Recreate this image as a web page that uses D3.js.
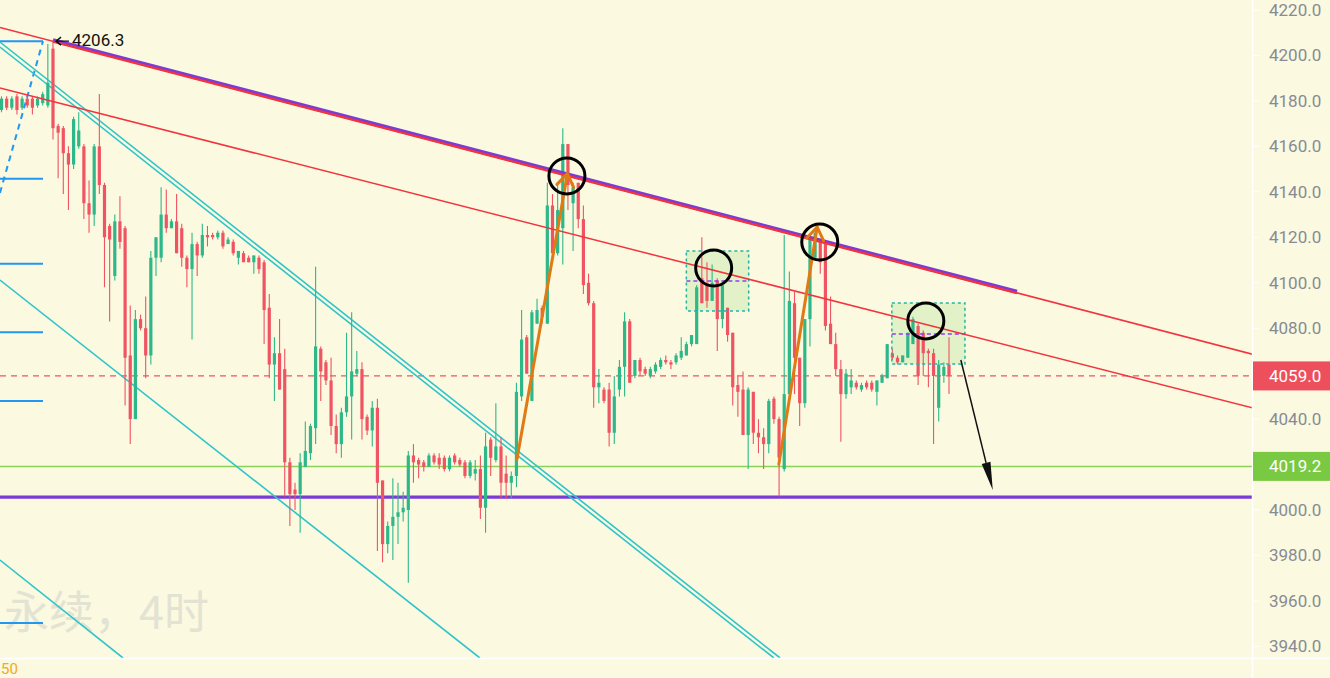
<!DOCTYPE html>
<html>
<head>
<meta charset="utf-8">
<script src="https://d3js.org/d3.v7.min.js"></script>
<style>
  body { margin: 0; background: #fbf9e0; overflow: hidden; }
</style>
</head>
<body>
<div id="chart-area"></div>
<script>
const WIDTH = 1330
const HEIGHT = 678
const PLOT = { RIGHT: 1252, BOTTOM: 658 }

// 4h candles
const opens = [
  4176,4181,4177,4182,4177,4181,4181,4178,4179,4178,
  4203,4169,4168,4157,4152,4160,4160,4135,4130,4160,
  4143,4125,4103,4127,4124,4068,4040,4084,4080,4068,
  4111,4111,4130,4124,4127,4124,4111,4106,4117,4112,
  4121,4121,4120,4122,4117,4118,4111,4113,4111,4109,
  4111,4109,4089,4064,4069,4062,4021,4009,4007,4019,
  4025,4036,4071,4065,4057,4037,4029,4043,4050,4060,
  4062,4041,4035,4045,4013,3985,3993,3997,3999,4000,
  4024,4022,4021,4019,4024,4023,4023,4018,4024,4022,
  4021,4015,4016,4018,4001,4031,4022,4028,4016,4012,
  4015,4050,4076,4048,4082,4089,4082,4134,4113,4124,
  4161,4135,4144,4128,4100,4091,4054,4053,4053,4034,
  4053,4063,4083,4059,4066,4062,4059,4061,4063,4066,
  4065,4065,4067,4068,4073,4073,4102,4100,4092,4101,
  4084,4089,4078,4055,4053,4033,4052,4034,4032,4029,
  4049,4040,4018,4051,4091,4067,4047,4084,4111,4118,
  4117,4082,4073,4062,4051,4054,4056,4053,4056,4056,
  4052,4056,4058,4069,4067,4065,4067,4073,4081,4078,
  4070,4069,4045,4059,4064
]
const highs = [
  4182,4182,4182,4183,4182,4182,4182,4182,4184,4205,
  4206.3,4170,4169,4160,4173,4175,4161,4145,4161,4183,
  4144,4126,4130,4138,4125,4090,4088,4086,4094,4114,
  4120,4142,4141,4128,4139,4126,4112,4122,4118,4126,
  4125,4122,4123,4123,4120,4119,4114,4114,4112,4112,
  4112,4110,4095,4076,4084,4071,4023,4012,4025,4039,
  4038,4107,4072,4066,4067,4042,4045,4078,4087,4070,
  4065,4042,4048,4049,4013,3995,4014,4012,4008,4026,
  4029,4023,4022,4025,4025,4025,4024,4024,4025,4023,
  4022,4022,4022,4024,4034,4032,4047,4032,4024,4017,
  4056,4088,4077,4088,4093,4090,4144,4139,4143,4168,
  4161,4144,4144,4134,4104,4092,4062,4054,4056,4059,
  4066,4087,4084,4066,4067,4063,4063,4065,4067,4068,
  4066,4069,4076,4074,4077,4099,4120,4109,4108,4102,
  4099,4089,4078,4059,4061,4054,4052,4040,4036,4049,
  4050,4041,4121,4105,4096,4067,4084,4120,4123,4118,
  4118,4094,4078,4066,4062,4062,4057,4056,4057,4057,
  4057,4060,4073,4071,4068,4068,4078,4085,4082,4079,
  4071,4071,4066,4065,4076
]
const lows = [
  4175,4176,4176,4174,4176,4177,4174,4177,4178,4177,
  4163,4146,4139,4132,4150,4159,4128,4122,4125,4139,
  4098,4083,4101,4115,4046,4029,4040,4079,4058,4064,
  4103,4109,4122,4124,4113,4107,4098,4075,4103,4111,
  4116,4119,4119,4115,4117,4112,4108,4110,4109,4104,
  4104,4073,4058,4048,4053,4006,3993,4000,3990,4019,
  4022,4029,4048,4055,4033,4025,4023,4041,4031,4059,
  4031,4033,4028,3982,3977,3981,3978,3985,3995,3968,
  4012,4014,4017,4019,4020,4018,4017,4017,4020,4019,
  4014,4014,4013,3996,3990,4015,4021,4005,4005,4005,
  4010,4048,4060,4048,4082,4082,4082,4112,4112,4108,
  4132,4114,4124,4095,4090,4045,4047,4047,4028,4029,
  4050,4050,4056,4058,4059,4059,4058,4060,4062,4064,
  4062,4064,4066,4068,4072,4073,4091,4089,4092,4070,
  4080,4074,4046,4041,4033,4018,4029,4025,4018,4025,
  4038,4006,4017,4051,4051,4037,4045,4072,4110,4104,
  4079,4073,4059,4030,4049,4051,4053,4052,4053,4052,
  4046,4056,4058,4066,4064,4065,4067,4073,4055,4059,
  4054,4029,4039,4056,4051
]
const closes = [
  4181,4177,4181,4176,4181,4178,4177,4181,4183,4188,
  4168,4166,4157,4152,4172,4167,4135,4130,4160,4143,
  4120,4119,4127,4118,4067,4040,4084,4080,4068,4111,
  4120,4130,4124,4127,4113,4111,4106,4117,4112,4121,
  4120,4120,4122,4116,4119,4113,4114,4109,4109,4112,
  4106,4088,4064,4069,4053,4021,4007,4007,4021,4026,
  4037,4072,4061,4057,4037,4029,4043,4050,4061,4062,
  4040,4035,4045,4012,3985,3993,3997,3999,4001,4024,
  4021,4020,4019,4024,4021,4020,4018,4023,4021,4020,
  4015,4021,4018,4001,4028,4023,4028,4012,4012,4015,
  4052,4075,4060,4087,4088,4085,4134,4113,4132,4161,
  4143,4142,4128,4099,4091,4054,4056,4048,4034,4050,
  4063,4083,4056,4066,4061,4060,4062,4064,4066,4065,
  4064,4068,4070,4073,4077,4098,4091,4092,4100,4084,
  4099,4077,4054,4052,4033,4053,4034,4032,4029,4048,
  4040,4023,4051,4092,4067,4047,4084,4119,4122,4109,
  4081,4073,4062,4051,4060,4057,4054,4055,4054,4053,
  4057,4059,4073,4067,4065,4068,4078,4084,4059,4069,
  4069,4059,4064,4063,4059
]

const priceTicks = [4220, 4200, 4180, 4160, 4140, 4120, 4100, 4080, 4060, 4040, 4020, 4000, 3980, 3960, 3940]
const lastPrice = 4059.0
const supportPrice = 4019.2
const floorPrice = 4005.7
const peak = [10, 4206.3]

// drawings as [bar index, price]
const mainTrend = [[-0.3, 4212.3], [243, 4068.5]]
const purpleTrend = [[10, 4206.3], [197.2, 4095.6]]
const lowerTrend = [[-0.3, 4185.7], [243, 4044.9]]
const cyanLines = [
  [[-0.3, 4205.9], [151.2, 3934.9]],
  [[-0.3, 4203.7], [150.0, 3934.9]],
  [[-0.3, 4101.2], [92.9, 3934.9]],
  [[-0.3, 3978.0], [23.6, 3934.9]]
]
const fibSpan = [-0.3, 8.06]
const fibLevels = [4206.3, 4145.8, 4108.4, 4078.2, 4048.0, 3950.3]
const fibTrend = [[-0.3, 4139.5], [8.06, 4206.3]]
const orangeArrows = [
  [[100.1, 4022.4], [109.9, 4148.0]],
  [[150.96, 4020.2], [158.4, 4124.5]]
]
const circles = [[109.8, 4147.0], [138.3, 4106.5], [158.9, 4117.9], [179.5, 4083.2]]
const boxes = [
  { from: 133.0, to: 145.1, top: 4114.0, bottom: 4087.6, mid: 4100.8 },
  { from: 172.9, to: 187.1, top: 4091.1, bottom: 4064.2, mid: 4077.4 }
]
const blackArrow = [[186.3, 4066.0], [192.5, 4008.8]]

const UP = "#2eb88a"
const DOWN = "#ef5462"

const svg = d3.select("#chart-area")
    .append("svg")
    .attr("width", WIDTH)
    .attr("height", HEIGHT)
    .style("display", "block")

svg.append("rect")
    .attr("width", WIDTH)
    .attr("height", HEIGHT)
    .attr("fill", "#fbf9e0")

svg.append("defs").append("clipPath")
    .attr("id", "plot-clip")
    .append("rect")
    .attr("width", PLOT.RIGHT)
    .attr("height", PLOT.BOTTOM)

const x = d3.scaleLinear().domain([0, 184]).range([1.5, 949])
const y = d3.scaleLinear().domain([3940, 4220]).range([646.4, 10])

const g = svg.append("g").attr("clip-path", "url(#plot-clip)")

// watermark
g.append("text")
    .attr("x", 4)
    .attr("y", 629)
    .attr("fill", "#e3e3d3")
    .style("font-family", "'Noto Sans CJK SC', sans-serif")
    .style("font-size", "45px")
    .text("永续，4时")

const seg = (pts) => d3.line().x(d => x(d[0])).y(d => y(d[1]))(pts)

// horizontal levels
g.append("line")
    .attr("x1", 0).attr("x2", PLOT.RIGHT)
    .attr("y1", y(lastPrice)).attr("y2", y(lastPrice))
    .attr("stroke", "#ef5462").attr("stroke-width", 1.2)
    .attr("stroke-dasharray", "6,5")

g.append("line")
    .attr("x1", 0).attr("x2", PLOT.RIGHT)
    .attr("y1", y(supportPrice)).attr("y2", y(supportPrice))
    .attr("stroke", "#8cd15a").attr("stroke-width", 1.5)

g.append("line")
    .attr("x1", 0).attr("x2", PLOT.RIGHT)
    .attr("y1", y(floorPrice)).attr("y2", y(floorPrice))
    .attr("stroke", "#7b3bd6").attr("stroke-width", 3.2)

// boxes (fill under candles)
g.selectAll(".box-fill").data(boxes).enter()
    .append("rect")
    .attr("x", d => x(d.from))
    .attr("y", d => y(d.top))
    .attr("width", d => x(d.to) - x(d.from))
    .attr("height", d => y(d.bottom) - y(d.top))
    .attr("fill", "#dcefc0")
    .attr("fill-opacity", 0.8)

// fib retracement
g.selectAll(".fib").data(fibLevels).enter()
    .append("line")
    .attr("x1", x(fibSpan[0])).attr("x2", x(fibSpan[1]))
    .attr("y1", d => y(d)).attr("y2", d => y(d))
    .attr("stroke", "#2196f3").attr("stroke-width", 2)

g.append("path")
    .attr("d", seg(fibTrend))
    .attr("stroke", "#2196f3").attr("stroke-width", 2)
    .attr("stroke-dasharray", "6,5").attr("fill", "none")

// cyan channel
g.selectAll(".cyan").data(cyanLines).enter()
    .append("path")
    .attr("d", d => seg(d))
    .attr("stroke", "#2ec4c9").attr("stroke-width", 1.6)
    .attr("fill", "none")

// candles
const candles = opens.map((o, i) => ({ i, o, h: highs[i], l: lows[i], c: closes[i] }))

g.selectAll(".wick").data(candles).enter()
    .append("line")
    .attr("x1", d => x(d.i)).attr("x2", d => x(d.i))
    .attr("y1", d => y(d.h)).attr("y2", d => y(d.l))
    .attr("stroke", d => d.c >= d.o ? UP : DOWN)
    .attr("stroke-width", 1.1)

g.selectAll(".body").data(candles).enter()
    .append("rect")
    .attr("x", d => x(d.i) - 1.6)
    .attr("width", 3.2)
    .attr("y", d => y(Math.max(d.o, d.c)))
    .attr("height", d => Math.max(1, Math.abs(y(d.o) - y(d.c))))
    .attr("fill", d => d.c >= d.o ? UP : DOWN)

// box borders
g.selectAll(".box-line").data(boxes).enter()
    .append("rect")
    .attr("x", d => x(d.from))
    .attr("y", d => y(d.top))
    .attr("width", d => x(d.to) - x(d.from))
    .attr("height", d => y(d.bottom) - y(d.top))
    .attr("fill", "none")
    .attr("stroke", "#22b5a5").attr("stroke-width", 1.5)
    .attr("stroke-dasharray", "3,3")

g.selectAll(".box-mid").data(boxes).enter()
    .append("line")
    .attr("x1", d => x(d.from)).attr("x2", d => x(d.to))
    .attr("y1", d => y(d.mid)).attr("y2", d => y(d.mid))
    .attr("stroke", "#8e3ff5").attr("stroke-width", 1.5)
    .attr("stroke-dasharray", "4,3")

// trend lines
g.append("path")
    .attr("d", seg(purpleTrend))
    .attr("transform", "translate(0,-1)")
    .attr("stroke", "#7b3bd6").attr("stroke-width", 4)
    .attr("fill", "none")

g.append("path")
    .attr("d", seg(mainTrend))
    .attr("stroke", "#f2343f").attr("stroke-width", 1.6)
    .attr("fill", "none")

g.append("path")
    .attr("d", seg(purpleTrend))
    .attr("transform", "translate(0,0.6)")
    .attr("stroke", "#f2343f").attr("stroke-width", 2)
    .attr("fill", "none")

g.append("path")
    .attr("d", seg(lowerTrend))
    .attr("stroke", "#f2343f").attr("stroke-width", 1.5)
    .attr("fill", "none")

// orange arrows
orangeArrows.forEach(a => {
    const x0 = x(a[0][0]), y0 = y(a[0][1]), x1 = x(a[1][0]), y1 = y(a[1][1])
    const ang = Math.atan2(y0 - y1, x0 - x1)
    const len = 15, spread = 0.6
    g.append("line")
        .attr("x1", x0).attr("y1", y0).attr("x2", x1).attr("y2", y1)
        .attr("stroke", "#e07a14").attr("stroke-width", 3)
        .attr("stroke-linecap", "round")
    g.append("polyline")
        .attr("points", [
            [x1 + len * Math.cos(ang - spread), y1 + len * Math.sin(ang - spread)],
            [x1, y1],
            [x1 + len * Math.cos(ang + spread), y1 + len * Math.sin(ang + spread)]
        ].join(" "))
        .attr("fill", "none")
        .attr("stroke", "#e07a14").attr("stroke-width", 3)
        .attr("stroke-linejoin", "round").attr("stroke-linecap", "round")
})

// circles
g.selectAll(".ring").data(circles).enter()
    .append("circle")
    .attr("cx", d => x(d[0]))
    .attr("cy", d => y(d[1]))
    .attr("r", 18)
    .attr("fill", "none")
    .attr("stroke", "#000").attr("stroke-width", 3)

// black arrow
{
    const x0 = x(blackArrow[0][0]), y0 = y(blackArrow[0][1])
    const x1 = x(blackArrow[1][0]), y1 = y(blackArrow[1][1])
    const ang = Math.atan2(y1 - y0, x1 - x0)
    const hl = 28, hw = 4.5
    const bx = x1 - hl * Math.cos(ang), by = y1 - hl * Math.sin(ang)
    g.append("line")
        .attr("x1", x0).attr("y1", y0).attr("x2", bx).attr("y2", by)
        .attr("stroke", "#111").attr("stroke-width", 1.5)
    g.append("polygon")
        .attr("points", [
            [x1, y1],
            [bx + hw * Math.sin(ang), by - hw * Math.cos(ang)],
            [bx - hw * Math.sin(ang), by + hw * Math.cos(ang)]
        ].join(" "))
        .attr("fill", "#111")
}

// high marker
const px = x(peak[0]), py = y(peak[1])
g.append("path")
    .attr("d", `M${px + 16},${py} L${px + 3},${py} M${px + 8},${py - 4} L${px + 3},${py} L${px + 8},${py + 4}`)
    .attr("stroke", "#111").attr("stroke-width", 1.4).attr("fill", "none")
g.append("text")
    .attr("x", px + 19)
    .attr("y", py + 5)
    .attr("fill", "#111")
    .style("font-family", "Roboto, sans-serif")
    .style("font-size", "17px")
    .text(peak[1].toFixed(1))

// axes frame
svg.append("line")
    .attr("x1", PLOT.RIGHT + 0.5).attr("x2", PLOT.RIGHT + 0.5)
    .attr("y1", 0).attr("y2", HEIGHT)
    .attr("stroke", "#ffffff").attr("stroke-width", 1.5)
svg.append("line")
    .attr("x1", 0).attr("x2", WIDTH)
    .attr("y1", PLOT.BOTTOM + 0.5).attr("y2", PLOT.BOTTOM + 0.5)
    .attr("stroke", "#ffffff").attr("stroke-width", 1.5)

const axis = svg.append("g")
axis.selectAll(".tick-mark").data(priceTicks).enter()
    .append("line")
    .attr("x1", PLOT.RIGHT).attr("x2", PLOT.RIGHT + 7)
    .attr("y1", d => y(d)).attr("y2", d => y(d))
    .attr("stroke", "#ffffff").attr("stroke-width", 1)
axis.selectAll(".tick-label").data(priceTicks).enter()
    .append("text")
    .attr("x", 1269)
    .attr("y", d => y(d))
    .attr("dy", "0.35em")
    .attr("fill", "#878b94")
    .style("font-family", "Roboto, sans-serif")
    .style("font-size", "17px")
    .text(d => d.toFixed(1))

const tags = [
    { price: lastPrice, color: "#ee4f5d" },
    { price: supportPrice, color: "#7ac943" }
]
axis.selectAll(".tag").data(tags).enter()
    .append("rect")
    .attr("x", PLOT.RIGHT + 1)
    .attr("y", d => y(d.price) - 14.5)
    .attr("width", WIDTH - PLOT.RIGHT)
    .attr("height", 29)
    .attr("fill", d => d.color)
axis.selectAll(".tag-text").data(tags).enter()
    .append("text")
    .attr("x", 1269)
    .attr("y", d => y(d.price))
    .attr("dy", "0.35em")
    .attr("fill", "#ffffff")
    .style("font-family", "Roboto, sans-serif")
    .style("font-size", "17px")
    .text(d => d.price.toFixed(1))

svg.append("text")
    .attr("x", 1)
    .attr("y", 674)
    .attr("fill", "#f5a623")
    .style("font-family", "Roboto, sans-serif")
    .style("font-size", "15px")
    .text("50")
</script>
</body>
</html>
